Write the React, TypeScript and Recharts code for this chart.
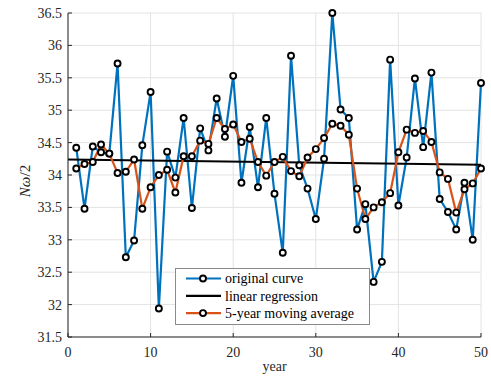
import React from 'react';
import {
  ComposedChart,
  Line,
  XAxis,
  YAxis,
  CartesianGrid,
  Legend,
} from 'recharts';

const years: number[] = Array.from({ length: 50 }, (_, i) => i + 1);

const originalCurve: number[] = [
  34.42, 33.48, 34.44, 34.35, 34.33, 35.72, 32.73, 32.99, 34.46, 35.28,
  31.94, 34.36, 33.96, 34.88, 33.49, 34.72, 34.38, 35.18, 34.59, 35.53,
  33.88, 34.74, 33.81, 34.88, 33.71, 32.8, 35.84, 34.15, 33.79, 33.32,
  34.25, 36.5, 35.01, 34.88, 33.16, 33.55, 32.35, 32.66, 35.78, 33.53,
  34.27, 35.49, 34.43, 35.58, 33.63, 33.43, 33.16, 33.88, 33.0, 35.42,
];

const movingAverage: number[] = [
  34.1, 34.17, 34.2, 34.47, 34.33, 34.03, 34.05, 34.24, 33.48, 33.81,
  34.0, 34.08, 33.73, 34.29, 34.29, 34.53, 34.48, 34.88, 34.71, 34.78,
  34.51, 34.56, 34.2, 33.99, 34.2, 34.28, 34.06, 33.98, 34.27, 34.4,
  34.57, 34.79, 34.76, 34.62, 33.79, 33.32, 33.5, 33.58, 33.72, 34.35,
  34.7, 34.65, 34.68, 34.51, 34.04, 33.94, 33.42, 33.78, 33.87, 34.1,
];

const regressionYears: number[] = [0, 50];
const regressionValues: number[] = [34.24, 34.16];

const xTicks: number[] = [0, 10, 20, 30, 40, 50];
const yTicks: number[] = [31.5, 32, 32.5, 33, 33.5, 34, 34.5, 35, 35.5, 36, 36.5];

const legendLabels: string[] = ['original curve', 'linear regression', '5-year moving average'];

const BLUE = '#0072BD';
const ORANGE = '#D95319';
const FONT = '"Liberation Serif", "Times New Roman", serif';

type Row = { year: number; orig?: number; ma?: number; reg?: number };

const data: Row[] = [];
{
  const map = new Map<number, Row>();
  regressionYears.forEach((y, i) => {
    const r = map.get(y) || { year: y };
    r.reg = regressionValues[i];
    map.set(y, r);
  });
  years.forEach((y, i) => {
    const r = map.get(y) || { year: y };
    r.orig = originalCurve[i];
    r.ma = movingAverage[i];
    map.set(y, r);
  });
  Array.from(map.keys())
    .sort((a, b) => a - b)
    .forEach((k) => data.push(map.get(k) as Row));
}

const dotStyle = { r: 3, stroke: '#000', strokeWidth: 1.9, fill: '#fff' };

const renderLegend = () => {
  const colors = [BLUE, '#000', ORANGE];
  const markers = [true, false, true];
  return (
    <svg width={196} height={58} style={{ display: 'block' }}>
      <rect x={0.5} y={0.5} width={194} height={56} fill="#fff" stroke="#8a8a8a" strokeWidth={1} />
      {legendLabels.map((label, i) => {
        const cy = 10.5 + i * 17.3;
        return (
          <g key={label}>
            <line x1={11} x2={46} y1={cy} y2={cy} stroke={colors[i]} strokeWidth={2.2} />
            {markers[i] && (
              <circle cx={28} cy={cy} r={3} stroke="#000" strokeWidth={1.9} fill="#fff" />
            )}
            <text x={50} y={cy + 4.8} fontFamily={FONT} fontSize={14} fill="#000">
              {label}
            </text>
          </g>
        );
      })}
    </svg>
  );
};

const YLabel = (props: any) => {
  const vb = props.viewBox || { x: 0, y: 13, width: 68, height: 324 };
  const x = vb.x + 30;
  const y = vb.y + vb.height / 2 + 6;
  return (
    <text
      x={x}
      y={y}
      transform={`rotate(-90 ${x} ${y})`}
      textAnchor="middle"
      fontFamily={FONT}
      fontSize={15}
      fill="#262626"
    >
      <tspan fontStyle="italic">Nω</tspan>
      <tspan>/2</tspan>
    </text>
  );
};

const XLabel = (props: any) => {
  const vb = props.viewBox || { x: 68, y: 337, width: 413, height: 40 };
  return (
    <text
      x={vb.x + vb.width / 2}
      y={vb.y + 34}
      textAnchor="middle"
      fontFamily={FONT}
      fontSize={14}
      fill="#262626"
    >
      year
    </text>
  );
};

const tickStyle = { fontFamily: FONT, fontSize: 14, fill: '#262626' };

export default function App() {
  return (
    <div style={{ position: 'absolute', left: 0, top: 0, width: 491, height: 377, background: '#fff' }}>
      <ComposedChart
        width={491}
        height={377}
        data={data}
        margin={{ top: 13, right: 10, left: 0, bottom: 0 }}
      >
        <CartesianGrid stroke="#e3e3e3" strokeWidth={1} />
        <XAxis
          dataKey="year"
          type="number"
          domain={[0, 50]}
          ticks={xTicks}
          height={40}
          tickSize={-4}
          tickMargin={14}
          tick={tickStyle}
          axisLine={{ stroke: '#262626', strokeWidth: 1 }}
          tickLine={{ stroke: '#262626' }}
          label={{ content: XLabel }}
        />
        <XAxis
          xAxisId="top"
          dataKey="year"
          type="number"
          orientation="top"
          domain={[0, 50]}
          ticks={xTicks}
          height={0}
          tickSize={-4}
          tick={false}
          axisLine={{ stroke: '#262626', strokeWidth: 1 }}
          tickLine={{ stroke: '#262626' }}
        />
        <YAxis
          type="number"
          domain={[31.5, 36.5]}
          ticks={yTicks}
          width={68}
          tickSize={-4}
          tickMargin={10}
          tick={tickStyle}
          axisLine={{ stroke: '#262626', strokeWidth: 1 }}
          tickLine={{ stroke: '#262626' }}
          label={{ content: YLabel }}
        />
        <YAxis
          yAxisId="right"
          orientation="right"
          type="number"
          domain={[31.5, 36.5]}
          ticks={yTicks}
          width={0}
          tickSize={-4}
          tick={false}
          axisLine={{ stroke: '#262626', strokeWidth: 1 }}
          tickLine={{ stroke: '#262626' }}
        />
        <Line
          dataKey="orig"
          type="linear"
          stroke={BLUE}
          strokeWidth={2.2}
          dot={dotStyle}
          activeDot={false}
          isAnimationActive={false}
          connectNulls
        />
        <Line
          dataKey="reg"
          type="linear"
          stroke="#000"
          strokeWidth={2}
          dot={false}
          activeDot={false}
          isAnimationActive={false}
          connectNulls
        />
        <Line
          dataKey="ma"
          type="linear"
          stroke={ORANGE}
          strokeWidth={2.2}
          dot={dotStyle}
          activeDot={false}
          isAnimationActive={false}
          connectNulls
        />
        <Legend
          layout="horizontal"
          verticalAlign="middle"
          align="center"
          content={renderLegend}
          wrapperStyle={{ left: 175, top: 268, width: 196, height: 58 }}
        />
      </ComposedChart>
    </div>
  );
}
